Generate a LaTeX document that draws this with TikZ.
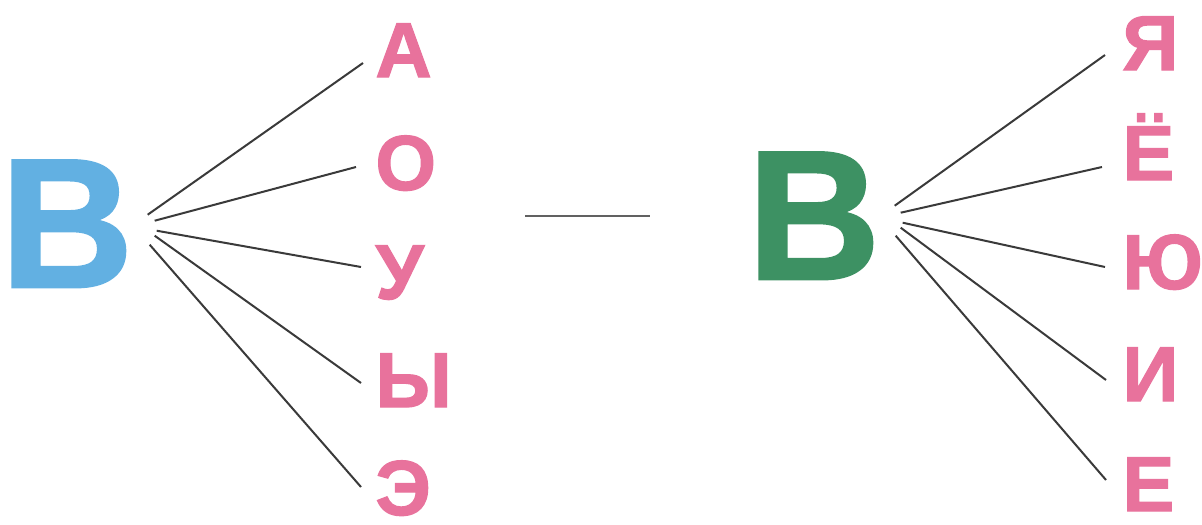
\documentclass[tikz,border=0pt]{standalone}
\usepackage{fontspec}
\setmainfont{Liberation Sans}
\newfontfamily\heavyfont{Liberation Sans Bold}[FakeBold=1.5]
\usetikzlibrary{calc}
\definecolor{LBlue}{HTML}{62B0E2}
\definecolor{DGreen}{HTML}{3D9163}
\definecolor{Pink}{HTML}{E8729C}
\definecolor{gray}{HTML}{3A3A3A}
\tikzset{
  big letter/.style={font=\fontsize{92}{92}\heavyfont, inner sep=0pt, anchor=base west},
  vowel/.style={font=\fontsize{39}{39}\heavyfont, text=Pink, inner sep=0pt, anchor=base west},
  fan/.style={gray, line width=1pt},
}

\begin{document}
\begin{tikzpicture}[x=0.5pt, y=-0.5pt]
\useasboundingbox (0,0) rectangle (1202,524);

\node[big letter, text=LBlue] (B1) at (0,287) {В};
\node[big letter, text=DGreen] (B2) at (747,279) {В};

% vowels after the hard consonant
\foreach \n/\l/\y in {a/А/77, o/О/190, u/У/299, y/Ы/407, e/Э/515}
  \node[vowel] (A1-\n) at (375,\y) {\l};
% vowels after the soft consonant
\foreach \n/\l/\y in {ya/Я/70, yo/Ё/180, yu/Ю/289, i/И/401, ye/Е/511}
  \node[vowel] (A2-\n) at (1122,\y) {\l};

\foreach \n/\sx/\sy/\ex/\ey in {a/14/-9/-12/-14, o/21/-3/-19/-23, u/23/7/-14/-32, y/21/12/-14/-24, e/16/21/-14/-28}
  \draw[fan] ([shift={(\sx,\sy)}]B1.east) -- ([shift={(\ex,\ey)}]A1-\n.base west);
\foreach \n/\sx/\sy/\ex/\ey in {ya/14/-10/-17/-15, yo/20/-3/-20/-13, yu/22/7/-17/-22, i/20/12/-16/-21, ye/15/20/-16/-31}
  \draw[fan] ([shift={(\sx,\sy)}]B2.east) -- ([shift={(\ex,\ey)}]A2-\n.base west);

\coordinate (dash-left) at (525,216);
\coordinate (dash-right) at (650,216);
\draw[gray!80, line width=1.3pt] (dash-left) -- (dash-right);
\end{tikzpicture}
\end{document}
